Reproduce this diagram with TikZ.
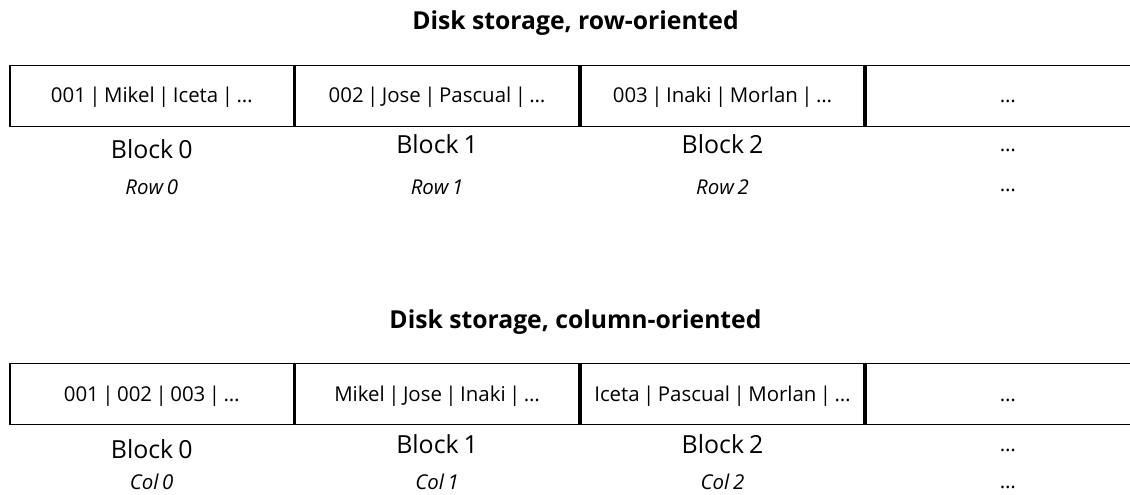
\documentclass[tikz,border=0pt]{standalone}
\usepackage{fontspec}
\setmainfont{Open Sans}
\newcommand\cellfnt{\fontsize{20.5}{22}\selectfont\spaceskip 0.17em\relax}
\newcommand\blockfnt{\fontsize{25}{28}\selectfont\spaceskip 0.2em\relax}
\newcommand\unitfnt{\fontsize{20.5}{22}\selectfont\itshape\spaceskip 0.18em\relax}
\newcommand\headfnt{\fontsize{24.8}{28}\selectfont\bfseries}
\begin{document}
\begin{tikzpicture}[x=1bp,y=-1bp,
  cellbox/.style={draw=black, line width=1.8bp, minimum width=283.6bp,
    minimum height=61bp, inner sep=0pt, anchor=west},
  celltext/.style={font=\cellfnt, inner sep=0pt, anchor=base},
  blocktext/.style={font=\blockfnt, inner sep=0pt, anchor=base},
  unittext/.style={font=\unitfnt, inner sep=0pt, anchor=base},
  headtext/.style={font=\headfnt, inner sep=0pt, anchor=base}]
\useasboundingbox (0,0) rectangle (1130,495);
\clip (0,0) rectangle (1130,495);

% ---------- row-oriented layout ----------
\node[headtext] (th1) at (575.5,29.5) {Disk storage, row-oriented};
\node[cellbox] (ra) at (9,96) {};
\node[cellbox] (rb) at (ra.east) {};
\node[cellbox] (rc) at (rb.east) {};
\node[cellbox] (rd) at (rc.east) {};
\node[celltext] (ra-t) at (ra.center |- 0,102.5) {001 | Mikel | Iceta | …};
\node[celltext] (rb-t) at (rb.center |- 0,102.5) {002 | Jose | Pascual | …};
\node[celltext] (rc-t) at (rc.center |- 0,102.5) {003 | Inaki | Morlan | …};
\node[celltext] (rd-t) at (rd.center |- 0,102.5) {…};
\node[blocktext] (ra-b) at (ra.center |- 0,159) {Block 0};
\node[blocktext] (rb-b) at (rb.center |- 0,154) {Block 1};
\node[blocktext] (rc-b) at (rc.center |- 0,154) {Block 2};
\node[celltext]  (rd-b) at (rd.center |- 0,152) {…};
\node[unittext] (ra-u) at (ra.center |- 0,195) {Row 0};
\node[unittext] (rb-u) at (rb.center |- 0,195) {Row 1};
\node[unittext] (rc-u) at (rc.center |- 0,195) {Row 2};
\node[celltext] (rd-u) at (rd.center |- 0,192) {…};

% ---------- column-oriented layout ----------
\node[headtext] (th2) at (575.5,329) {Disk storage, column-oriented};
\node[cellbox] (ca) at (9,394) {};
\node[cellbox] (cb) at (ca.east) {};
\node[cellbox] (cc) at (cb.east) {};
\node[cellbox] (cd) at (cc.east) {};
\node[celltext] (ca-t) at (ca.center |- 0,401.5) {001 | 002 | 003 | …};
\node[celltext] (cb-t) at (cb.center |- 0,401.5) {Mikel | Jose | Inaki | …};
\node[celltext] (cc-t) at (cc.center |- 0,401.5) {Iceta | Pascual | Morlan | …};
\node[celltext] (cd-t) at (cd.center |- 0,401.5) {…};
\node[blocktext] (ca-b) at (ca.center |- 0,458) {Block 0};
\node[blocktext] (cb-b) at (cb.center |- 0,453) {Block 1};
\node[blocktext] (cc-b) at (cc.center |- 0,453) {Block 2};
\node[celltext]  (cd-b) at (cd.center |- 0,451) {…};
\node[unittext] (ca-u) at (ca.center |- 0,489.5) {Col 0};
\node[unittext] (cb-u) at (cb.center |- 0,489.5) {Col 1};
\node[unittext] (cc-u) at (cc.center |- 0,489.5) {Col 2};
\node[celltext] (cd-u) at (cd.center |- 0,488) {…};
\end{tikzpicture}
\end{document}
